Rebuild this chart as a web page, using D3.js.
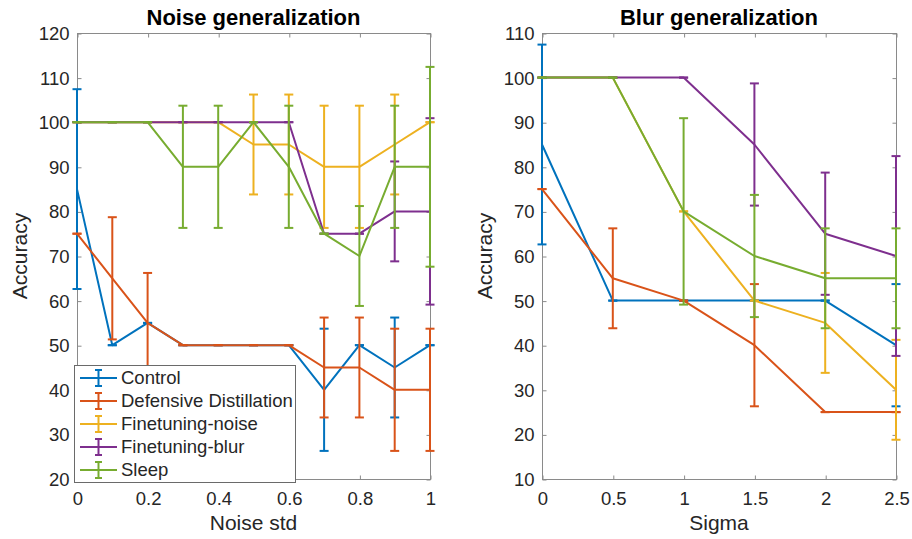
<!DOCTYPE html>
<html>
<head>
<meta charset="utf-8">
<script src="https://cdn.jsdelivr.net/npm/d3@7"></script>
<style>
  html, body { margin: 0; padding: 0; background: #fff; }
  svg text { font-family: "Liberation Sans", Arial, Helvetica, sans-serif; fill: #262626; }
</style>
</head>
<body>
<svg id="chart" width="912" height="539"></svg>
<script>
// ---------- DATA ----------
const seriesNames = ["Control", "Defensive Distillation", "Finetuning-noise", "Finetuning-blur", "Sleep"];
const seriesColors = ["#0072BD", "#D95319", "#EDB120", "#7E2F8E", "#77AC30"];

// Noise generalization
const noiseX = [0, 0.1, 0.2, 0.3, 0.4, 0.5, 0.6, 0.7, 0.8, 0.9, 1];
const noiseControl     = [85, 50, 55, 50, 50, 50, 50, 40, 50, 45, 50];
const noiseControlErr  = [22.4, 0, 0, 0, 0, 0, 0, 13.7, 0, 11.2, 0];
const noiseDD          = [75, 65, 55, 50, 50, 50, 50, 45, 45, 40, 40];
const noiseDDErr       = [0, 13.7, 11.2, 0, 0, 0, 0, 11.2, 11.2, 13.7, 13.7];
const noiseFN          = [100, 100, 100, 100, 100, 95, 95, 90, 90, 95, 100];
const noiseFNErr       = [0, 0, 0, 0, 0, 11.2, 11.2, 13.7, 13.7, 11.2, 0];
const noiseFB          = [100, 100, 100, 100, 100, 100, 100, 75, 75, 80, 80];
const noiseFBErr       = [0, 0, 0, 0, 0, 0, 0, 0, 0, 11.2, 20.9];
const noiseSleep       = [100, 100, 100, 90, 90, 100, 90, 75, 70, 90, 90];
const noiseSleepErr    = [0, 0, 0, 13.7, 13.7, 0, 13.7, 0, 11.2, 13.7, 22.4];
const noiseXTicks = [0, 0.2, 0.4, 0.6, 0.8, 1];
const noiseYTicks = [20, 30, 40, 50, 60, 70, 80, 90, 100, 110, 120];

// Blur generalization
const blurX = [0, 0.5, 1, 1.5, 2, 2.5];
const blurControl     = [85, 50, 50, 50, 50, 40];
const blurControlErr  = [22.4, 0, 0, 0, 0, 13.7];
const blurDD          = [75, 55, 50, 40, 25, 25];
const blurDDErr       = [0, 11.2, 0, 13.7, 0, 0];
const blurFN          = [100, 100, 70, 50, 45, 30];
const blurFNErr       = [0, 0, 0, 0, 11.2, 11.2];
const blurFB          = [100, 100, 100, 85, 65, 60];
const blurFBErr       = [0, 0, 0, 13.7, 13.7, 22.4];
const blurSleep       = [100, 100, 70, 60, 55, 55];
const blurSleepErr    = [0, 0, 20.9, 13.7, 11.2, 11.2];
const blurXTicks = [0, 0.5, 1, 1.5, 2, 2.5];
const blurYTicks = [10, 20, 30, 40, 50, 60, 70, 80, 90, 100, 110];

// ---------- DRAW ----------
const svg = d3.select("#chart");
const TICK_FS = 18.5, LABEL_FS = 21, TITLE_FS = 22;

function panel(opts) {
  const { left, right, top, bottom, xDomain, yDomain, xTicks, yTicks, xs, series, errs, title, xLabel } = opts;
  const x = d3.scaleLinear().domain(xDomain).range([left, right]);
  const y = d3.scaleLinear().domain(yDomain).range([bottom, top]);
  const g = svg.append("g");

  // axes box
  g.append("rect")
    .attr("x", left + 0.5).attr("y", top + 0.5)
    .attr("width", right - left).attr("height", bottom - top)
    .attr("fill", "none").attr("stroke", "#8a8a8a").attr("stroke-width", 1);

  const fmt = d => String(d);
  const axB = g.append("g").attr("transform", `translate(0.5,${bottom + 0.5})`)
    .call(d3.axisBottom(x).tickValues(xTicks).tickFormat(fmt).tickSizeInner(-4).tickSizeOuter(0).tickPadding(12));
  const axT = g.append("g").attr("transform", `translate(0.5,${top + 0.5})`)
    .call(d3.axisTop(x).tickValues(xTicks).tickFormat("").tickSizeInner(-4).tickSizeOuter(0));
  const axL = g.append("g").attr("transform", `translate(${left + 0.5},0.5)`)
    .call(d3.axisLeft(y).tickValues(yTicks).tickFormat(fmt).tickSizeInner(-4).tickSizeOuter(0).tickPadding(8));
  const axR = g.append("g").attr("transform", `translate(${right + 0.5},0.5)`)
    .call(d3.axisRight(y).tickValues(yTicks).tickFormat("").tickSizeInner(-4).tickSizeOuter(0));
  [axB, axT, axL, axR].forEach(a => {
    a.select(".domain").remove();
    a.selectAll(".tick line").attr("stroke", "#8a8a8a");
    a.selectAll("text").attr("font-size", TICK_FS).attr("fill", "#262626")
      .style("font-family", '"Liberation Sans", Arial, sans-serif');
  });

  // series
  const capHalf = 4.5;
  series.forEach((vals, si) => {
    const color = seriesColors[si];
    const e = errs[si];
    const sg = g.append("g");
    const line = d3.line().x((d, i) => x(xs[i])).y(d => y(d));
    sg.append("path").attr("d", line(vals))
      .attr("fill", "none").attr("stroke", color).attr("stroke-width", 2).attr("stroke-linejoin", "round");
    vals.forEach((v, i) => {
      const cx = x(xs[i]);
      const yt = y(v + e[i]), yb = y(v - e[i]);
      sg.append("line").attr("x1", cx).attr("x2", cx).attr("y1", yt).attr("y2", yb)
        .attr("stroke", color).attr("stroke-width", 2);
      [yt, yb].forEach(yy => {
        sg.append("line").attr("x1", cx - capHalf).attr("x2", cx + capHalf).attr("y1", yy).attr("y2", yy)
          .attr("stroke", color).attr("stroke-width", 2);
      });
    });
  });

  // title
  g.append("text").attr("x", (left + right) / 2).attr("y", 25)
    .attr("text-anchor", "middle").attr("font-size", TITLE_FS).attr("font-weight", "bold")
    .attr("fill", "#000").style("fill", "#000").text(title);
  // x label
  g.append("text").attr("x", (left + right) / 2).attr("y", 530)
    .attr("text-anchor", "middle").attr("font-size", LABEL_FS).text(xLabel);
  // y label
  g.append("text").attr("transform", `translate(${left - 50},${(top + bottom) / 2}) rotate(-90)`)
    .attr("text-anchor", "middle").attr("font-size", LABEL_FS).text("Accuracy");

  return { g, x, y };
}

panel({
  left: 77, right: 430, top: 33, bottom: 479,
  xDomain: [0, 1], yDomain: [20, 120],
  xTicks: noiseXTicks, yTicks: noiseYTicks, xs: noiseX,
  series: [noiseControl, noiseDD, noiseFN, noiseFB, noiseSleep],
  errs: [noiseControlErr, noiseDDErr, noiseFNErr, noiseFBErr, noiseSleepErr],
  title: "Noise generalization", xLabel: "Noise std"
});

panel({
  left: 542, right: 896, top: 33, bottom: 479,
  xDomain: [0, 2.5], yDomain: [10, 110],
  xTicks: blurXTicks, yTicks: blurYTicks, xs: blurX,
  series: [blurControl, blurDD, blurFN, blurFB, blurSleep],
  errs: [blurControlErr, blurDDErr, blurFNErr, blurFBErr, blurSleepErr],
  title: "Blur generalization", xLabel: "Sigma"
});

// legend
const lg = svg.append("g");
const lx = 74, ly = 365, lw = 221, lh = 117;
lg.append("rect").attr("x", lx + 0.5).attr("y", ly + 0.5).attr("width", lw).attr("height", lh)
  .attr("fill", "#fff").attr("stroke", "#6a6a6a").attr("stroke-width", 1);
seriesNames.forEach((name, i) => {
  const cy = ly + 13 + i * 23;
  const c = seriesColors[i];
  lg.append("line").attr("x1", lx + 6).attr("x2", lx + 43).attr("y1", cy).attr("y2", cy)
    .attr("stroke", c).attr("stroke-width", 2);
  const mx = lx + 24.5;
  lg.append("line").attr("x1", mx).attr("x2", mx).attr("y1", cy - 8).attr("y2", cy + 8)
    .attr("stroke", c).attr("stroke-width", 2);
  [cy - 8, cy + 8].forEach(yy => lg.append("line").attr("x1", mx - 3.5).attr("x2", mx + 3.5)
    .attr("y1", yy).attr("y2", yy).attr("stroke", c).attr("stroke-width", 2));
  lg.append("text").attr("x", lx + 47).attr("y", cy).attr("dy", "0.35em")
    .attr("font-size", 18.5).text(name);
});
</script>
</body>
</html>
